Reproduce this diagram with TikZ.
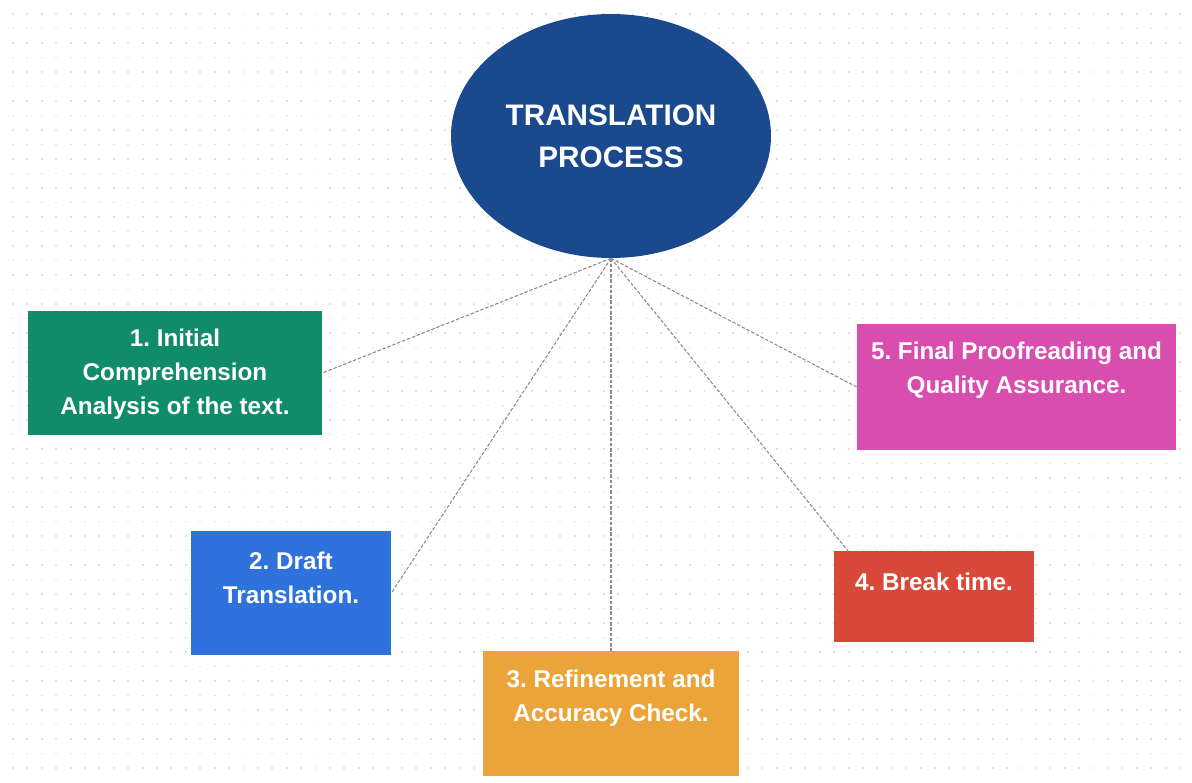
\documentclass[tikz,border=0pt]{standalone}
\usepackage{fontspec}
\setmainfont{Liberation Sans}
\usetikzlibrary{shapes,positioning}
\definecolor{hubcolor}{RGB}{26,73,142}
\definecolor{stepgreen}{RGB}{16,140,106}
\definecolor{stepblue}{RGB}{47,114,219}
\definecolor{steporange}{RGB}{234,164,58}
\definecolor{stepred}{RGB}{216,73,58}
\definecolor{steppink}{RGB}{216,77,174}
\definecolor{gridcolor}{RGB}{224,224,224}

\tikzset{
  card/.style={draw=none, minimum width=#1, inner sep=0pt},
  cardtext/.style={text=white, font=\fontsize{13.8}{19.3}\selectfont\bfseries, align=center},
  spoke/.style={gray!90, dashed, dash pattern=on 2pt off 1pt, line width=0.6pt}
}

\begin{document}
\frenchspacing
\begin{tikzpicture}[x=0.02cm, y=-0.02cm]

\useasboundingbox (0,0) rectangle (1192,783);
\fill[white] (0,0) rectangle (1192,783);

% ---- Dotted paper (background) ----
\foreach \y in {14,28.5,...,780} {
  \draw[gridcolor, line width=1.1pt, dash pattern=on 1.1pt off 7.1pt] (12,\y) -- (1192,\y);
}

% ---- Hub ----
\node[ellipse, fill=hubcolor, minimum width=6.4cm, minimum height=4.88cm,
  text=white, font=\fontsize{16.9}{23.8}\selectfont\bfseries, align=center]
  (proc) at (611,136) {TRANSLATION\\PROCESS};

% ---- Step cards ----
\node[card=5.88cm, fill=stepgreen, minimum height=2.48cm] (b1) at (175,373) {};
\node[card=4cm, fill=stepblue, minimum height=2.48cm] (b2) at (291,593) {};
\node[card=5.12cm, fill=steporange, minimum height=2.5cm] (b3) at (611,713.5) {};
\node[card=4cm, fill=stepred, minimum height=1.82cm] (b4) at (934,596.5) {};
\node[card=6.38cm, fill=steppink, minimum height=2.52cm] (b5) at (1016.5,387) {};

\node[cardtext] (t1) at (175,374) {1. Initial\\Comprehension\\Analysis of the text.};
\node[cardtext] (t2) at (291,578) {2. Draft\\Translation.};
\node[cardtext] (t3) at (611,698) {3. Refinement and\\Accuracy Check.};
\node[cardtext] (t4) at (934,582) {4. Break time.};
\node[cardtext] (t5) at (1016.5,370) {5. Final Proofreading and\\Quality Assurance.};

% ---- Spokes from the hub ----
\coordinate (b4end) at ([xshift=0.28cm]b4.north west);
\draw[spoke] (proc.south) -- (b1.east);
\draw[spoke] (proc.south) -- (b2.east);
\draw[spoke] (proc.south) -- (b3.north);
\draw[spoke] (proc.south) -- (b4end);
\draw[spoke] (proc.south) -- (b5.west);

\end{tikzpicture}
\end{document}
